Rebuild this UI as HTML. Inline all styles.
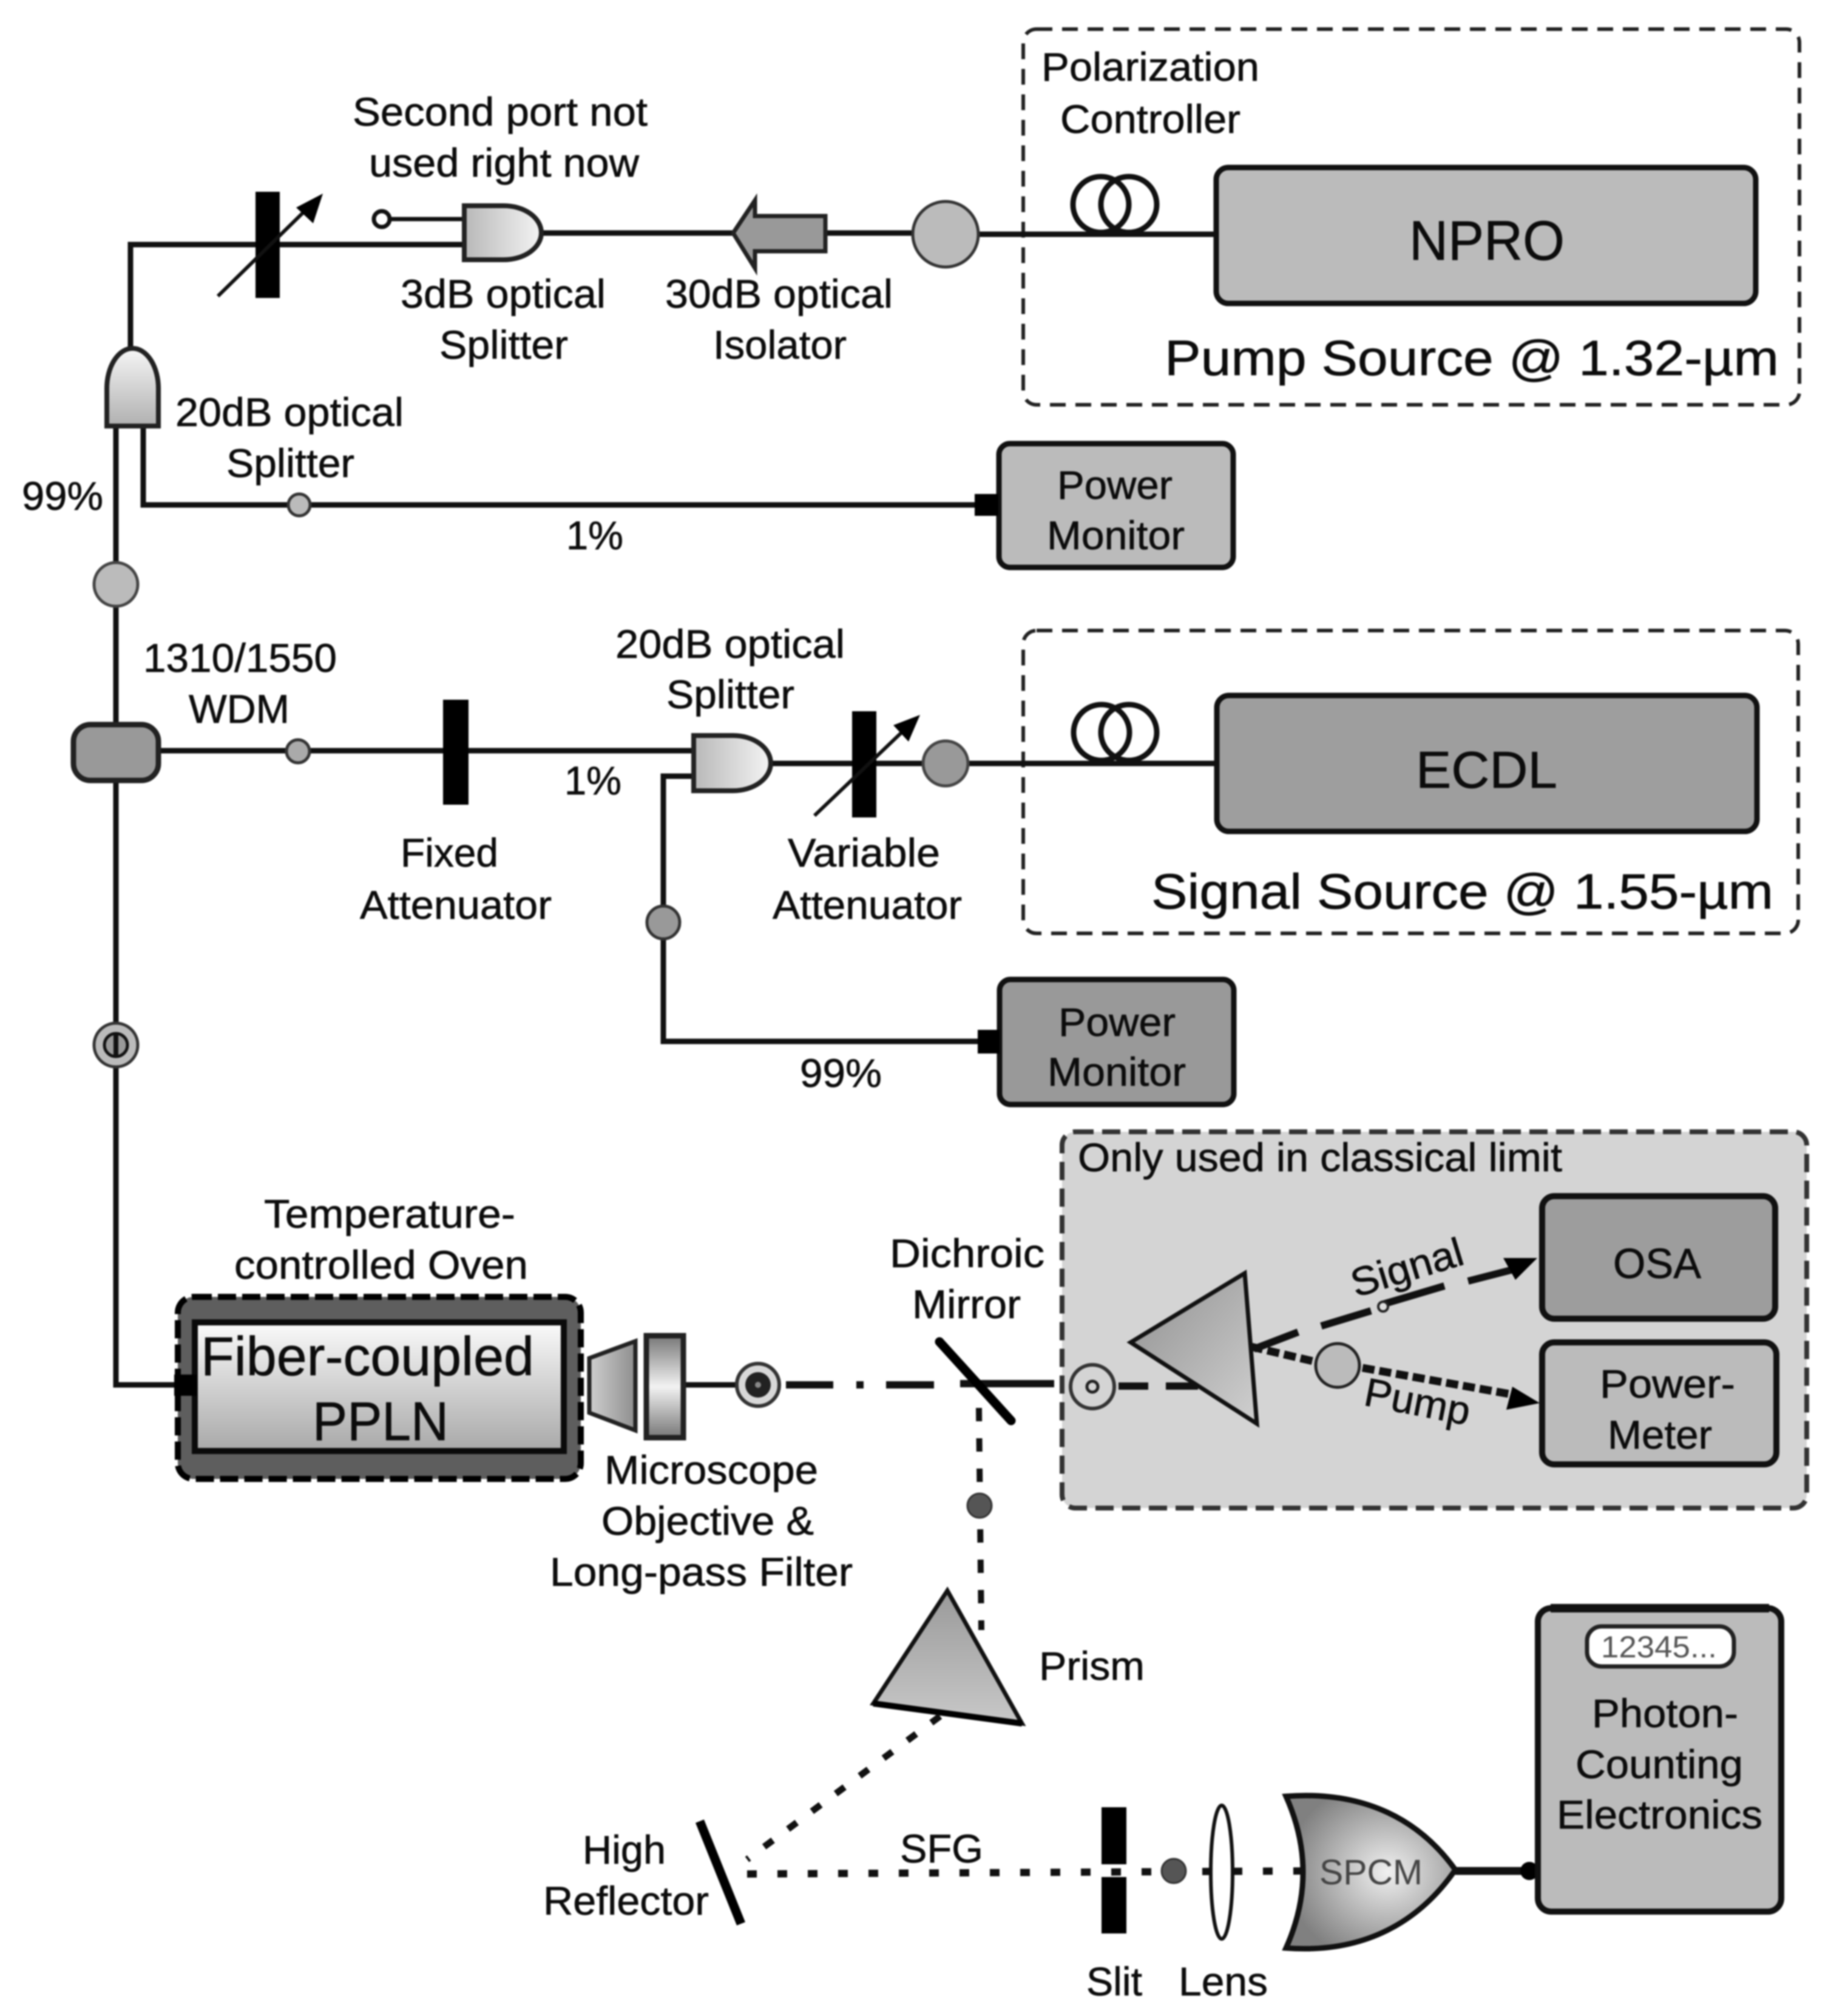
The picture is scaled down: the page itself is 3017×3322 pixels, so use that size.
<!DOCTYPE html>
<html><head><meta charset="utf-8"><style>
html,body{margin:0;padding:0;background:#fff;width:3017px;height:3322px;overflow:hidden}
svg{display:block;filter:blur(1.4px)}
text{font-family:"Liberation Sans",sans-serif;font-size:66px;fill:#0c0c0c;stroke:#0c0c0c;stroke-width:.7px}
</style></head><body>
<svg xmlns="http://www.w3.org/2000/svg" width="3017" height="3322" viewBox="0 0 3017 3322">
<defs>
<linearGradient id="gh" x1="0" x2="1" y1="0" y2="0"><stop offset="0" stop-color="#b8b8b8"/><stop offset="1" stop-color="#f4f4f4"/></linearGradient>
<linearGradient id="gv" x1="0" x2="0" y1="0" y2="1"><stop offset="0" stop-color="#f6f6f6"/><stop offset="1" stop-color="#b0b0b0"/></linearGradient>
<linearGradient id="gpp" x1="0" x2="0" y1="0" y2="1"><stop offset="0" stop-color="#fafafa"/><stop offset="1" stop-color="#a8a8a8"/></linearGradient>
<linearGradient id="gtri" x1="0" x2="1" y1="0" y2="1"><stop offset="0" stop-color="#909090"/><stop offset="1" stop-color="#d0d0d0"/></linearGradient>
<linearGradient id="gtri2" x1="0" x2="0" y1="0" y2="1"><stop offset="0" stop-color="#9a9a9a"/><stop offset="1" stop-color="#c8c8c8"/></linearGradient>
<linearGradient id="gfil" x1="0" x2="0" y1="0" y2="1"><stop offset="0" stop-color="#777"/><stop offset=".5" stop-color="#f2f2f2"/><stop offset="1" stop-color="#777"/></linearGradient>
<linearGradient id="gobj" x1="0" x2="1" y1="0" y2="0"><stop offset="0" stop-color="#cfcfcf"/><stop offset="1" stop-color="#8e8e8e"/></linearGradient>
<radialGradient id="gsp" cx=".6" cy=".5" r=".6"><stop offset="0" stop-color="#f0f0f0"/><stop offset="1" stop-color="#808080"/></radialGradient>
</defs>
<rect width="3017" height="3322" fill="#fff"/>

<!-- dashed boxes -->
<rect x="1686" y="48" width="1279" height="619" rx="22" fill="none" stroke="#222" stroke-width="6" stroke-dasharray="26 16"/>
<rect x="1686" y="1039" width="1277" height="499" rx="22" fill="none" stroke="#222" stroke-width="6" stroke-dasharray="26 16"/>
<rect x="1750" y="1865" width="1227" height="620" rx="22" fill="#d4d4d4" stroke="#333" stroke-width="8" stroke-dasharray="30 14"/>

<!-- top fiber -->
<g fill="none" stroke="#111" stroke-width="9">
<path d="M765,403 H215 V575"/>
<path d="M645,361 H765" stroke-width="7"/>
<path d="M895,384 H1208 M1360,384 H1558 M1558,386 H2003"/>
<path d="M191,702 V2282 H287"/>
<path d="M236,702 V832 H1606"/>
<path d="M265,1237 H1143"/>
<path d="M1270,1258 H2005"/>
<path d="M1143,1279 H1093 V1716 H1611"/>
<path d="M1129,2282 H1212"/>
</g>

<!-- attenuators -->
<rect x="421" y="316" width="40" height="175" fill="#000"/>
<path d="M359,488 L510,340" stroke="#111" stroke-width="6" fill="none"/>
<polygon points="532,319 516,368 488,342" fill="#000"/>
<rect x="730" y="1153" width="42" height="173" fill="#000"/>
<rect x="1404" y="1172" width="40" height="175" fill="#000"/>
<path d="M1342,1344 L1495,1198" stroke="#111" stroke-width="6" fill="none"/>
<polygon points="1516,1178 1497,1222 1472,1195" fill="#000"/>

<!-- port + splitters -->
<circle cx="629" cy="361" r="13" fill="#fff" stroke="#111" stroke-width="7"/>
<path d="M765,339 H830 A62,44.5 0 0 1 830,428 H765 Z" fill="url(#gh)" stroke="#222" stroke-width="8"/>
<path d="M176,702 V640 A42.5,66 0 0 1 261,640 V702 Z" fill="url(#gv)" stroke="#222" stroke-width="8"/>
<path d="M1143,1212 H1208 A62,45.5 0 0 1 1208,1303 H1143 Z" fill="url(#gh)" stroke="#222" stroke-width="8"/>

<!-- isolator -->
<polygon points="1208,384 1244,330 1244,356 1360,356 1360,414 1244,414 1244,442" fill="#999" stroke="#222" stroke-width="7"/>

<!-- circles -->
<circle cx="1558" cy="386" r="54" fill="#bbb" stroke="#333" stroke-width="5"/>
<circle cx="493" cy="832" r="18" fill="#bbb" stroke="#333" stroke-width="5"/>
<circle cx="191" cy="963" r="36" fill="#bbb" stroke="#444" stroke-width="5"/>
<circle cx="491" cy="1238" r="19" fill="#aaa" stroke="#333" stroke-width="5"/>
<circle cx="1558" cy="1258" r="37" fill="#999" stroke="#444" stroke-width="5"/>
<circle cx="1093" cy="1520" r="27" fill="#999" stroke="#333" stroke-width="5"/>
<circle cx="191" cy="1722" r="36" fill="#bbb" stroke="#333" stroke-width="5"/>
<circle cx="191" cy="1722" r="19" fill="#999" stroke="#111" stroke-width="5"/>
<path d="M191,1703 V1741" stroke="#111" stroke-width="8"/>

<!-- loops -->
<g fill="none" stroke="#111" stroke-width="9">
<ellipse cx="1814" cy="337" rx="46" ry="46"/><ellipse cx="1860" cy="337" rx="46" ry="46"/>
<ellipse cx="1815" cy="1207" rx="46" ry="46"/><ellipse cx="1860" cy="1207" rx="46" ry="46"/>
</g>

<!-- boxes -->
<rect x="2004" y="276" width="889" height="224" rx="20" fill="#bbb" stroke="#111" stroke-width="9"/>
<rect x="1646" y="731" width="386" height="204" rx="18" fill="#bbb" stroke="#111" stroke-width="9"/>
<rect x="2005" y="1146" width="890" height="224" rx="20" fill="#9e9e9e" stroke="#111" stroke-width="9"/>
<rect x="1647" y="1614" width="386" height="206" rx="18" fill="#999" stroke="#111" stroke-width="9"/>
<rect x="1606" y="814" width="39" height="36" fill="#000"/>
<rect x="1611" y="1697" width="36" height="39" fill="#000"/>

<!-- WDM -->
<rect x="121" y="1194" width="140" height="92" rx="28" fill="#999" stroke="#222" stroke-width="9"/>

<!-- oven -->
<rect x="293" y="2137" width="664" height="300" rx="26" fill="#5e5e5e" stroke="#000" stroke-width="10" stroke-dasharray="30 10"/>
<rect x="321" y="2179" width="608" height="212" fill="url(#gpp)" stroke="#0a0a0a" stroke-width="10"/>
<rect x="287" y="2265" width="37" height="35" fill="#000"/>

<!-- objective -->
<polygon points="971,2238 1047,2210 1047,2357 971,2328" fill="url(#gobj)" stroke="#222" stroke-width="7"/>
<rect x="1065" y="2201" width="61" height="168" fill="url(#gfil)" stroke="#222" stroke-width="9"/>
<circle cx="1249" cy="2282" r="35" fill="#d8d8d8" stroke="#333" stroke-width="6"/>
<circle cx="1249" cy="2282" r="21" fill="#222"/>
<circle cx="1249" cy="2282" r="5" fill="#888"/>

<!-- horizontal beam -->
<g fill="none" stroke="#111" stroke-width="12">
<path d="M1295,2282 H1373 M1411,2282 H1423 M1460,2282 H1539 M1582,2280 H1737 M1843,2284 H1892 M1921,2284 H1974"/>
</g>
<path d="M1548,2211 L1666,2341" stroke="#000" stroke-width="15" stroke-linecap="round" fill="none"/>
<circle cx="1800" cy="2285" r="36" fill="#d4d4d4" stroke="#333" stroke-width="6"/>
<circle cx="1800" cy="2285" r="9" fill="#d4d4d4" stroke="#222" stroke-width="5"/>

<!-- prism 1 -->
<polygon points="1863,2212 2051,2098 2071,2346" fill="url(#gtri)" stroke="#111" stroke-width="7" stroke-linejoin="miter"/>

<!-- signal beam -->
<g fill="none" stroke="#111" stroke-width="12">
<path d="M2066,2223 L2139,2195 M2177,2185 L2259,2160 M2279,2149 L2380,2119 M2419,2111 L2497,2091"/>
</g>
<polygon points="2533,2073 2477,2073 2497,2109" fill="#000"/>
<circle cx="2279" cy="2153" r="8" fill="#ddd" stroke="#222" stroke-width="4"/>
<g fill="none" stroke="#111" stroke-width="13" stroke-dasharray="20 8">
<path d="M2061,2219 L2168,2244 M2245,2254 L2487,2297"/>
</g>
<polygon points="2537,2312 2492,2285 2482,2323" fill="#000"/>
<circle cx="2204" cy="2250" r="36" fill="#bbb" stroke="#222" stroke-width="5"/>

<rect x="2541" y="1971" width="384" height="202" rx="20" fill="#9d9d9d" stroke="#111" stroke-width="10"/>
<rect x="2541" y="2212" width="386" height="201" rx="20" fill="#bbb" stroke="#111" stroke-width="10"/>

<!-- vertical dotted -->
<path d="M1613,2320 L1617,2686" fill="none" stroke="#111" stroke-width="10" stroke-dasharray="22 28"/>
<circle cx="1614" cy="2481" r="20" fill="#555" stroke="#333" stroke-width="3"/>

<!-- prism 2 -->
<polygon points="1561,2621 1439,2807 1684,2840" fill="url(#gtri2)" stroke="#111" stroke-width="7"/>
<path d="M1439,2807 L1684,2840" stroke="#000" stroke-width="10"/>
<path d="M1549,2828 L1231,3064" fill="none" stroke="#111" stroke-width="11" stroke-dasharray="18 31"/>

<!-- reflector + SFG -->
<path d="M1153,3001 L1221,3170" stroke="#000" stroke-width="15" fill="none"/>
<path d="M1231,3088 L2143,3083" fill="none" stroke="#111" stroke-width="12" stroke-dasharray="16 34"/>
<rect x="1815" y="2978" width="41" height="94" fill="#000"/>
<rect x="1815" y="3093" width="41" height="93" fill="#000"/>
<circle cx="1934" cy="3083" r="20" fill="#555" stroke="#333" stroke-width="3"/>
<ellipse cx="2013" cy="3085" rx="18" ry="110" fill="#fff" stroke="#111" stroke-width="6"/>

<!-- SPCM -->
<path d="M2119,2960 C2250,2950 2340,3000 2398,3081 C2340,3165 2250,3220 2119,3210 Q2175,3085 2119,2960 Z" fill="url(#gsp)" stroke="#111" stroke-width="9"/>
<path d="M2398,3083 H2530" stroke="#111" stroke-width="13" fill="none"/>
<circle cx="2520" cy="3083" r="15" fill="#000"/>

<!-- photon box -->
<rect x="2534" y="2650" width="401" height="500" rx="22" fill="#bbb" stroke="#111" stroke-width="10"/>
<path d="M2555,2650 H2915" stroke="#111" stroke-width="14"/>
<rect x="2615" y="2680" width="242" height="66" rx="24" fill="#fff" stroke="#222" stroke-width="7"/>

<!-- text -->
<text x="581" y="207" textLength="486" lengthAdjust="spacingAndGlyphs">Second port not</text>
<text x="608" y="291" textLength="445" lengthAdjust="spacingAndGlyphs">used right now</text>
<text x="660" y="507" textLength="338" lengthAdjust="spacingAndGlyphs">3dB optical</text>
<text x="724" y="591" textLength="212" lengthAdjust="spacingAndGlyphs">Splitter</text>
<text x="1096" y="507" textLength="375" lengthAdjust="spacingAndGlyphs">30dB optical</text>
<text x="1175" y="591" textLength="220" lengthAdjust="spacingAndGlyphs">Isolator</text>
<text x="289" y="702" textLength="376" lengthAdjust="spacingAndGlyphs">20dB optical</text>
<text x="373" y="786" textLength="211" lengthAdjust="spacingAndGlyphs">Splitter</text>
<text x="36" y="840" textLength="134" lengthAdjust="spacingAndGlyphs">99%</text>
<text x="933" y="905" textLength="94" lengthAdjust="spacingAndGlyphs">1%</text>
<text x="236" y="1107" textLength="319" lengthAdjust="spacingAndGlyphs">1310/1550</text>
<text x="311" y="1191" textLength="166" lengthAdjust="spacingAndGlyphs">WDM</text>
<text x="1014" y="1084" textLength="378" lengthAdjust="spacingAndGlyphs">20dB optical</text>
<text x="1098" y="1167" textLength="211" lengthAdjust="spacingAndGlyphs">Splitter</text>
<text x="1716" y="133" textLength="359" lengthAdjust="spacingAndGlyphs">Polarization</text>
<text x="1747" y="219" textLength="297" lengthAdjust="spacingAndGlyphs">Controller</text>
<text x="2322" y="428" textLength="256" lengthAdjust="spacingAndGlyphs" style="font-size:92px">NPRO</text>
<text x="1919" y="618" textLength="1012" lengthAdjust="spacingAndGlyphs" style="font-size:82px">Pump Source @ 1.32-µm</text>
<text x="1742" y="822" textLength="190" lengthAdjust="spacingAndGlyphs">Power</text>
<text x="1725" y="905" textLength="227" lengthAdjust="spacingAndGlyphs">Monitor</text>
<text x="930" y="1309" textLength="94" lengthAdjust="spacingAndGlyphs">1%</text>
<text x="660" y="1428" textLength="161" lengthAdjust="spacingAndGlyphs">Fixed</text>
<text x="593" y="1514" textLength="316" lengthAdjust="spacingAndGlyphs">Attenuator</text>
<text x="1298" y="1428" textLength="251" lengthAdjust="spacingAndGlyphs">Variable</text>
<text x="1273" y="1514" textLength="312" lengthAdjust="spacingAndGlyphs">Attenuator</text>
<text x="2333" y="1298" textLength="233" lengthAdjust="spacingAndGlyphs" style="font-size:85px">ECDL</text>
<text x="1897" y="1497" textLength="1025" lengthAdjust="spacingAndGlyphs" style="font-size:82px">Signal Source @ 1.55-µm</text>
<text x="1744" y="1707" textLength="193" lengthAdjust="spacingAndGlyphs">Power</text>
<text x="1726" y="1789" textLength="228" lengthAdjust="spacingAndGlyphs">Monitor</text>
<text x="1318" y="1791" textLength="135" lengthAdjust="spacingAndGlyphs">99%</text>
<text x="435" y="2023" textLength="414" lengthAdjust="spacingAndGlyphs">Temperature-</text>
<text x="386" y="2107" textLength="484" lengthAdjust="spacingAndGlyphs">controlled Oven</text>
<text x="331" y="2266" textLength="549" lengthAdjust="spacingAndGlyphs" style="font-size:90px">Fiber-coupled</text>
<text x="515" y="2373" textLength="224" lengthAdjust="spacingAndGlyphs" style="font-size:90px">PPLN</text>
<text x="996" y="2445" textLength="352" lengthAdjust="spacingAndGlyphs">Microscope</text>
<text x="991" y="2529" textLength="350" lengthAdjust="spacingAndGlyphs">Objective &amp;</text>
<text x="906" y="2613" textLength="499" lengthAdjust="spacingAndGlyphs">Long-pass Filter</text>
<text x="1466" y="2088" textLength="255" lengthAdjust="spacingAndGlyphs">Dichroic</text>
<text x="1503" y="2172" textLength="179" lengthAdjust="spacingAndGlyphs">Mirror</text>
<text x="1776" y="1930" textLength="798" lengthAdjust="spacingAndGlyphs">Only used in classical limit</text>
<text x="2658" y="2106" textLength="145" lengthAdjust="spacingAndGlyphs" style="font-size:70px">OSA</text>
<text x="2636" y="2303" textLength="223" lengthAdjust="spacingAndGlyphs">Power-</text>
<text x="2649" y="2387" textLength="172" lengthAdjust="spacingAndGlyphs">Meter</text>
<text transform="translate(2234,2138) rotate(-17)" textLength="190" lengthAdjust="spacingAndGlyphs">Signal</text>
<text transform="translate(2245,2315) rotate(11)" textLength="176" lengthAdjust="spacingAndGlyphs">Pump</text>
<text x="1712" y="2768" textLength="174" lengthAdjust="spacingAndGlyphs">Prism</text>
<text x="960" y="3071" textLength="137" lengthAdjust="spacingAndGlyphs">High</text>
<text x="895" y="3155" textLength="273" lengthAdjust="spacingAndGlyphs">Reflector</text>
<text x="1483" y="3069" textLength="137" lengthAdjust="spacingAndGlyphs">SFG</text>
<text x="1790" y="3288" textLength="92" lengthAdjust="spacingAndGlyphs">Slit</text>
<text x="1942" y="3288" textLength="147" lengthAdjust="spacingAndGlyphs">Lens</text>
<text x="2174" y="3105" textLength="170" lengthAdjust="spacingAndGlyphs" style="font-size:58px;fill:#444;stroke:none">SPCM</text>
<text x="2638" y="2731" textLength="191" lengthAdjust="spacingAndGlyphs" style="font-size:50px;fill:#555;stroke:none">12345...</text>
<text x="2623" y="2846" textLength="241" lengthAdjust="spacingAndGlyphs">Photon-</text>
<text x="2596" y="2930" textLength="276" lengthAdjust="spacingAndGlyphs">Counting</text>
<text x="2565" y="3013" textLength="339" lengthAdjust="spacingAndGlyphs">Electronics</text>
</svg>
</body></html>
